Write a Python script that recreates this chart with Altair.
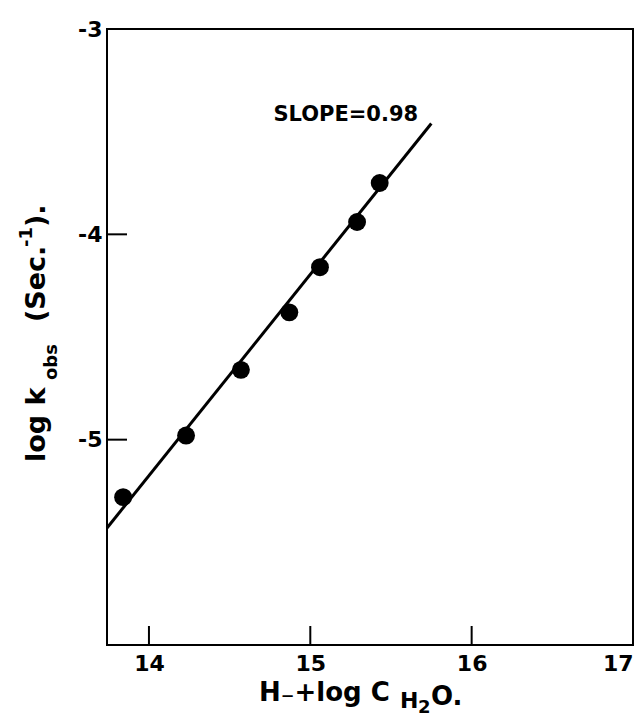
import altair as alt
import pandas as pd

# data
pts_x = [13.84, 14.23, 14.57, 14.87, 15.06, 15.29, 15.43]
pts_y = [-5.28, -4.98, -4.66, -4.38, -4.16, -3.94, -3.75]
fit_x = [13.74, 15.75]
fit_y = [-5.43, -3.46]
x_ticks = [14, 15, 16, 17]
y_ticks = [-3, -4, -5]
inner_x_ticks = [14, 15, 16]
inner_y_ticks = [-4, -5]
slope_text = ["SLOPE=0.98"]
slope_x = [15.22]
slope_y = [-3.45]

FONT = "DejaVu Sans"
W, H = 526, 616

xs = alt.Scale(domain=[13.74, 17], nice=False, zero=False)
ys = alt.Scale(domain=[-6, -3], nice=False, zero=False)

x_axis = alt.Axis(values=x_ticks, ticks=False, domain=False, grid=False,
                  labelFont=FONT, labelFontSize=22, labelFontWeight="bold",
                  labelColor="black", labelPadding=8, labelFlush=True,
                  title=None, format="d")
y_axis = alt.Axis(values=y_ticks, ticks=False, domain=False, grid=False,
                  labelFont=FONT, labelFontSize=22, labelFontWeight="bold",
                  labelColor="black", labelPadding=5, title=None,
                  labelExpr="'-' + abs(datum.value)")

pts = pd.DataFrame({"x": pts_x, "y": pts_y})
fit = pd.DataFrame({"x": fit_x, "y": fit_y})

line = alt.Chart(fit).mark_line(color="black", strokeWidth=3).encode(
    x=alt.X("x:Q", scale=xs, axis=x_axis),
    y=alt.Y("y:Q", scale=ys, axis=y_axis),
)
points = alt.Chart(pts).mark_circle(color="black", opacity=1, size=320).encode(
    x=alt.X("x:Q", scale=xs), y=alt.Y("y:Q", scale=ys)
)
xt = alt.Chart(pd.DataFrame({"x": inner_x_ticks})).mark_rule(
    color="black", strokeWidth=2).encode(
    x=alt.X("x:Q", scale=xs), y=alt.value(H), y2=alt.value(H - 19))
yt = alt.Chart(pd.DataFrame({"y": inner_y_ticks})).mark_rule(
    color="black", strokeWidth=2).encode(
    y=alt.Y("y:Q", scale=ys), x=alt.value(0), x2=alt.value(20))

slope = alt.Chart(pd.DataFrame({"x": slope_x, "y": slope_y, "t": slope_text})).mark_text(
    font=FONT, fontSize=21, fontWeight="bold", color="black",
    align="center", baseline="alphabetic").encode(
    x=alt.X("x:Q", scale=xs), y=alt.Y("y:Q", scale=ys), text="t:N")

one = pd.DataFrame({"a": [0]})


def piece(txt, px, py, size, angle=0):
    kw = dict(font=FONT, fontSize=size, fontWeight="bold", color="black",
              align="left", baseline="alphabetic")
    if angle:
        kw["angle"] = angle
    return alt.Chart(one).mark_text(**kw).encode(
        x=alt.value(px), y=alt.value(py), text=alt.value(txt))


# y axis title: log k_obs (Sec.^-1).
ytitle = [
    piece("log k", -62, 433, 27, 270),
    piece("obs", -50, 351, 18, 270),
    piece("(Sec.", -62, 293, 27, 270),
    piece("-1", -75, 218, 18, 270),
    piece(").", -62, 198, 27, 270),
]
# x axis title: H_ + log C_H2O.
xtitle = [
    piece("H\u208b+log C", 152, 672, 26),
    piece("H", 293, 679, 22),
    piece("2", 311, 684, 18),
    piece("O.", 324, 676, 26),
]

chart = alt.layer(line, points, xt, yt, slope, *ytitle, *xtitle).properties(
    width=W, height=H,
    autosize=alt.AutoSizeParams(type="none"),
    padding={"left": 107, "top": 29, "right": 5, "bottom": 72},
    background="white",
).configure_view(stroke="black", strokeWidth=2)

chart.save("out.html", embed_options={"renderer": "svg", "actions": False})
